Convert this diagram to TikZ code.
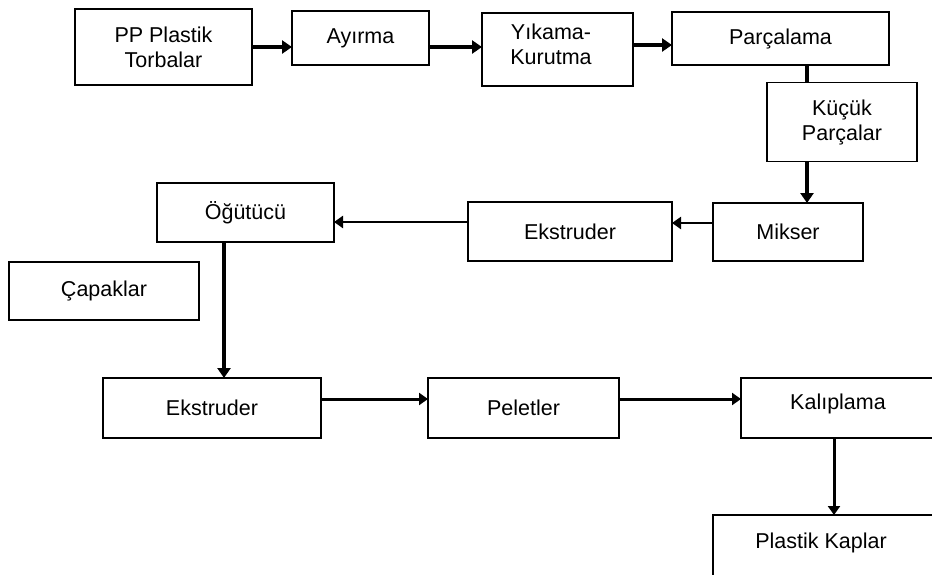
\documentclass[tikz,border=0pt]{standalone}
\usepackage{fontspec}
\setmainfont{Liberation Sans}
\usetikzlibrary{arrows.meta}
\tikzset{
  box/.style={draw=black, line width=1.8pt, rectangle, inner sep=0pt, outer sep=0pt, align=center,
    font=\fontsize{21.5}{25}\selectfont},
  txt/.style={inner sep=0pt, align=center, font=\fontsize{21.5}{25}\selectfont},
  thickarrow/.style={line width=4pt, -{Triangle[length=10pt,width=13pt]}},
  midarrow/.style={line width=3pt, -{Triangle[length=9pt,width=12pt]}},
  thinarrow/.style={line width=2.5pt, -{Triangle[length=9pt,width=12pt]}},
  thickline/.style={line width=4pt}
}
\begin{document}
\begin{tikzpicture}[x=1pt, y=-1pt]
\useasboundingbox (0,0) rectangle (932,574);
\clip (0,0) rectangle (932,574);
\fill[white] (0,0) rectangle (932,574);
% top row
\node[box, minimum width=177pt, minimum height=76pt] (pp) at (163.5,47) {PP Plastik\\Torbalar};
\node[box, minimum width=137pt, minimum height=54pt] (ay) at (360.5,38) {Ayırma};
\node[box, minimum width=151pt, minimum height=73pt] (yk) at (557.5,49.5) {};
\node[txt] (yktext) at (551,44) {Yıkama-\\Kurutma};
\node[box, minimum width=217pt, minimum height=53pt] (pa) at (780.5,38.5) {Parçalama};
\node[box, minimum width=150pt, minimum height=79pt] (kp) at (842,122) {Küçük\\Parçalar};
% middle row
\node[box, minimum width=150pt, minimum height=58pt] (mi) at (788,232) {Mikser};
\node[box, minimum width=204pt, minimum height=59pt] (ek1) at (570,231.5) {Ekstruder};
\node[box, minimum width=177pt, minimum height=59pt] (og) at (245.5,212.5) {Öğütücü};
\node[box, minimum width=190pt, minimum height=58pt] (ca) at (104,291) {Çapaklar};
% bottom row
\node[box, minimum width=218pt, minimum height=60pt] (ek2) at (212,408) {Ekstruder};
\node[box, minimum width=191pt, minimum height=60pt] (pe) at (523.5,408) {Peletler};
\node[box, minimum width=194pt, minimum height=60pt] (ka) at (838,408) {};
\node[txt] (katext) at (838,404) {Kalıplama};
\node[box, minimum width=222pt, minimum height=85pt] (pk) at (824,557.5) {};
\node[txt] (pktext) at (821,543) {Plastik Kaplar};
% connectors
\draw[thickarrow] (pp.east) -- (pp.east -| ay.west);
\draw[thickarrow] (ay.east |- 0,47) -- (yk.west |- 0,47);
\draw[thickarrow] (yk.east |- 0,45) -- (pa.west |- 0,45);
\draw[thickline] (pa.south -| 807,0) -- (kp.north -| 807,0);
\draw[thickarrow] (kp.south -| 807,0) -- (mi.north -| 807,0);
\draw[thinarrow] (mi.west |- 0,223) -- (ek1.east |- 0,223);
\draw[thinarrow] (ek1.west |- 0,222) -- (og.east |- 0,222);
\draw[thickarrow] (og.south -| 224,0) -- (ek2.north -| 224,0);
\draw[midarrow] (ek2.east |- 0,399) -- (pe.west |- 0,399);
\draw[midarrow] (pe.east |- 0,399) -- (ka.west |- 0,399);
\draw[midarrow] (ka.south -| 834,0) -- (pk.north -| 834,0);
\end{tikzpicture}
\end{document}
